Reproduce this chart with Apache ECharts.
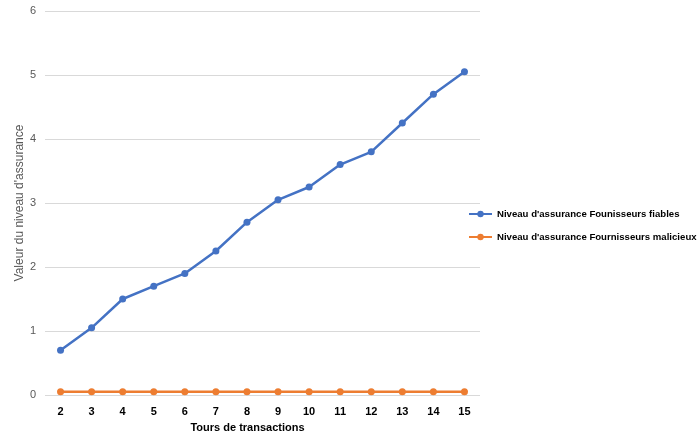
<!DOCTYPE html>
<html><head><meta charset="utf-8">
<script src="https://cdn.jsdelivr.net/npm/echarts@6/dist/echarts.min.js"></script>
<style>html,body{margin:0;padding:0;background:#fff}#c{width:697px;height:439px}</style>
</head><body><div id="c"></div>
<script>
const categories = ['2','3','4','5','6','7','8','9','10','11','12','13','14','15'];
const fiables = [0.7,1.05,1.5,1.7,1.9,2.25,2.7,3.05,3.25,3.6,3.8,4.25,4.7,5.05];
const malicieux = [0.05,0.05,0.05,0.05,0.05,0.05,0.05,0.05,0.05,0.05,0.05,0.05,0.05,0.05];
const yTicks = [0,1,2,3,4,5,6];
const seriesNames = ["Niveau d'assurance Founisseurs fiables","Niveau d'assurance Fournisseurs malicieux"];
const chart = echarts.init(document.getElementById('c'));
const font = 'Liberation Sans';
chart.setOption({
  animation:false,
  textStyle:{fontFamily:font},
  grid:{left:45,right:217,top:11,bottom:44,containLabel:false},
  legend:{orient:'vertical',left:468,top:209,padding:0,itemGap:13,itemWidth:23,itemHeight:8,
    textStyle:{fontFamily:font,fontSize:9.6,fontWeight:'bold',color:'#000'},
    data:seriesNames},
  xAxis:{type:'category',data:categories,boundaryGap:true,
    axisLine:{show:false},axisTick:{show:false},
    axisLabel:{color:'#000',fontWeight:'bold',fontSize:11,margin:11},
    name:'Tours de transactions',nameLocation:'middle',nameGap:27,
    nameTextStyle:{color:'#000',fontWeight:'bold',fontSize:11,padding:[0,30,0,0]}},
  yAxis:{type:'value',min:yTicks[0],max:yTicks[yTicks.length-1],interval:1,
    axisLine:{show:false},axisTick:{show:false},
    axisLabel:{color:'#595959',fontSize:11,margin:9},
    splitLine:{lineStyle:{color:'#d9d9d9',width:1}},
    name:"Valeur du niveau d'assurance",nameLocation:'middle',nameGap:19,nameRotate:90,
    nameMoveOverlap:false,
    nameTextStyle:{color:'#595959',fontWeight:'normal',fontSize:12}},
  series:[
    {name:seriesNames[0],type:'line',data:fiables,symbol:'circle',symbolSize:7,
     lineStyle:{color:'#4472c4',width:2.5},itemStyle:{color:'#4472c4'}},
    {name:seriesNames[1],type:'line',data:malicieux,symbol:'circle',symbolSize:7,
     lineStyle:{color:'#ed7d31',width:2.5},itemStyle:{color:'#ed7d31'}}
  ]
});
</script></body></html>
